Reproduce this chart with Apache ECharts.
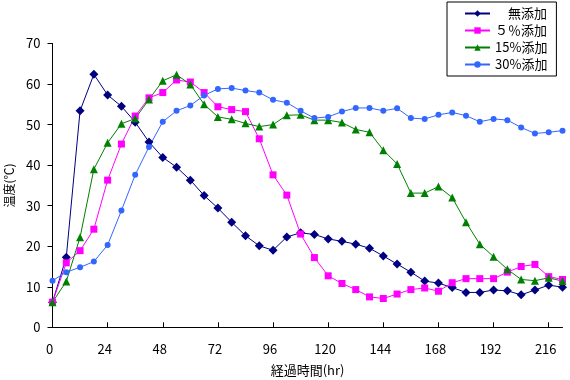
<!DOCTYPE html>
<html><head><meta charset="utf-8">
<script src="https://cdn.jsdelivr.net/npm/echarts@6/dist/echarts.min.js"></script>
<style>html,body{margin:0;padding:0;background:#fff}#c{width:570px;height:380px}</style>
</head><body><div id="c"></div>
<script>
const hours = [0,6,12,18,24,30,36,42,48,54,60,66,72,78,84,90,96,102,108,114,120,126,132,138,144,150,156,162,168,174,180,186,192,198,204,210,216,222];
const xTicks = [0,24,48,72,96,120,144,168,192,216];
const yTicks = [0,10,20,30,40,50,60,70];
const seriesNames = ['　無添加','５％添加','15%添加','30%添加'];
const none = [6.2,17.3,53.4,62.4,57.3,54.5,50.6,45.7,41.9,39.5,36.3,32.5,29.4,25.9,22.6,20.1,19.0,22.3,23.3,22.9,21.8,21.2,20.5,19.5,17.6,15.6,13.6,11.4,10.9,9.8,8.6,8.6,9.2,9.0,8.0,9.2,10.4,9.9];
const p5 = [6.2,15.9,18.9,24.2,36.3,45.2,52.1,56.6,57.9,61.0,60.5,57.9,54.4,53.7,53.2,46.5,37.6,32.6,23.0,17.2,12.7,10.8,9.3,7.5,7.1,8.2,9.3,9.7,8.9,11.0,12.0,12.0,12.0,13.6,15.0,15.5,12.5,11.8];
const p15 = [6.2,11.3,22.2,39.0,45.5,50.2,51.5,56.2,60.8,62.3,59.9,55.0,51.9,51.3,50.3,49.5,50.0,52.3,52.4,51.1,51.1,50.5,48.8,48.1,43.7,40.3,33.1,33.1,34.7,32.0,25.9,20.5,17.4,14.3,11.8,11.5,12.2,11.4];
const p30 = [11.5,13.6,14.8,16.2,20.3,28.8,37.6,44.5,50.7,53.4,54.7,57.2,58.8,59.0,58.4,57.9,56.1,55.4,53.4,51.6,51.9,53.2,54.1,54.1,53.4,54.0,51.6,51.4,52.4,53.0,52.2,50.7,51.4,51.1,49.3,47.8,48.1,48.5];

const font = "'Noto Sans CJK JP', sans-serif";
const pair = arr => hours.map((h,i)=>[h,arr[i]]);
const chart = echarts.init(document.getElementById('c'));
const mk = (name, data, color, symbol, size) => ({
  name, type:'line', data: pair(data), symbol, symbolSize:size,
  lineStyle:{color, width:1}, itemStyle:{color}, animation:false
});
chart.setOption({
  animation:false,
  backgroundColor:'#fff',
  grid:{left:52.5, right:7.5, top:43.5, bottom:52.7, containLabel:false, outerBoundsMode:'none'},
  legend:{
    orient:'vertical', left:447, top:2, padding:[5,9,5,17],
    borderColor:'#000', borderWidth:1, backgroundColor:'#fff',
    itemWidth:25, itemHeight:8, itemGap:4,
    textStyle:{fontFamily:font, fontSize:13, color:'#000'},
    data:seriesNames
  },
  xAxis:{
    type:'value', min:0, max:222, interval:24,
    name:'経過時間(hr)', nameLocation:'middle', nameGap:36,
    nameTextStyle:{fontFamily:font, fontSize:13, color:'#000'},
    axisLine:{lineStyle:{color:'#000', width:1}},
    axisTick:{inside:true, length:5, lineStyle:{color:'#000'}, customValues:xTicks},
    axisLabel:{fontFamily:font, fontSize:13, color:'#000', margin:15, padding:[0,6,0,0], customValues:xTicks},
    splitLine:{show:false}
  },
  yAxis:{
    type:'value', min:0, max:70, interval:10,
    name:'温度(℃)', nameLocation:'middle', nameGap:36, nameRotate:90,
    nameTextStyle:{fontFamily:font, fontSize:12, color:'#000'},
    axisLine:{show:true, lineStyle:{color:'#000', width:1}},
    axisTick:{show:true, length:5, lineStyle:{color:'#000'}, customValues:yTicks},
    axisLabel:{fontFamily:font, fontSize:13, color:'#000', margin:12, customValues:yTicks},
    splitLine:{show:false}
  },
  series:[
    mk(seriesNames[0], none, '#000080', 'diamond', 9),
    mk(seriesNames[1], p5, '#FF00FF', 'rect', 7),
    mk(seriesNames[2], p15, '#008000', 'triangle', 8),
    mk(seriesNames[3], p30, '#3366FF', 'circle', 6)
  ]
});
</script></body></html>
